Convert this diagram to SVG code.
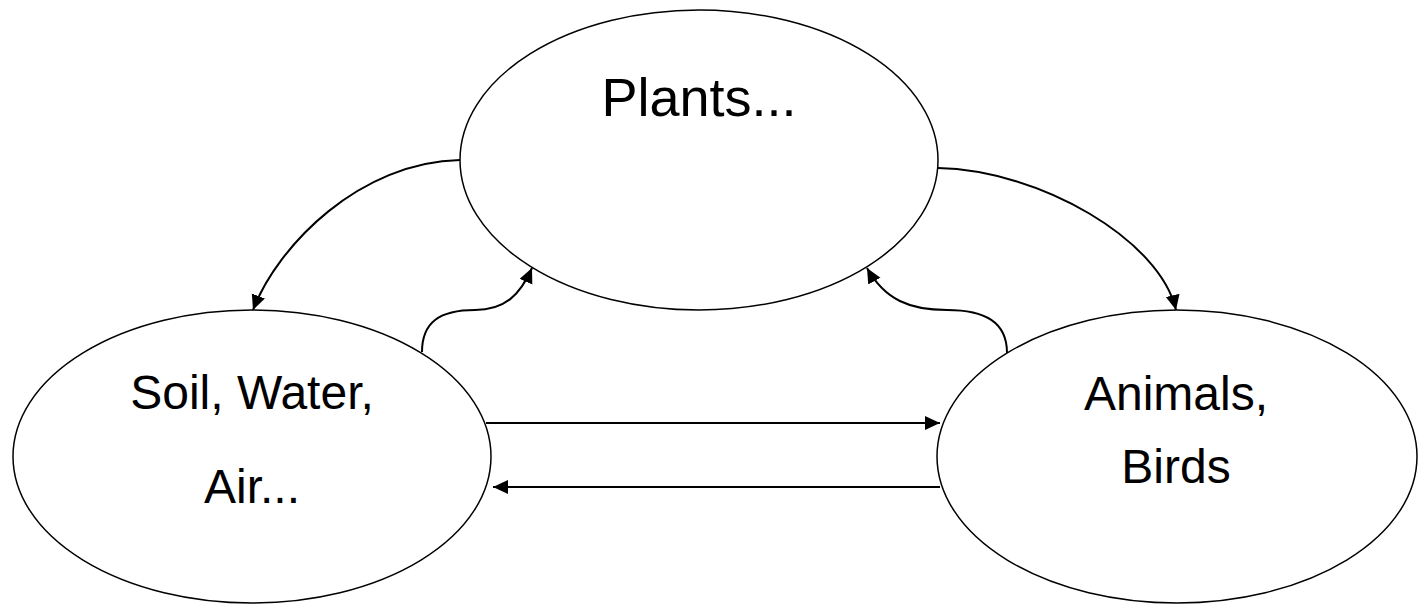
<svg xmlns="http://www.w3.org/2000/svg" width="1422" height="605" viewBox="0 0 1422 605">
  <style>
    .node { fill: #ffffff; stroke: #000000; stroke-width: 1.5; }
    .label { font-family: "Liberation Sans", Arial, sans-serif; fill: #000000; text-anchor: middle; }
    .conn { fill: none; stroke: #000000; stroke-width: 2; marker-end: url(#arrow); }
  </style>
  <defs>
    <marker id="arrow" markerUnits="userSpaceOnUse" markerWidth="16" markerHeight="16" refX="15" refY="7" orient="auto">
      <path d="M0,0 L15,7 L0,14 z" fill="#000000"/>
    </marker>
  </defs>
  <rect width="1422" height="605" fill="#ffffff"/>
  <g id="plants">
    <ellipse class="node" cx="699" cy="160" rx="239" ry="150"/>
    <text class="label" x="699" y="116" font-size="54">Plants...</text>
  </g>
  <g id="soil">
    <ellipse class="node" cx="252" cy="456.5" rx="239" ry="146.5"/>
    <text class="label" x="252" y="409" font-size="48">Soil, Water,</text>
    <text class="label" x="252" y="503" font-size="48">Air...</text>
  </g>
  <g id="animals">
    <ellipse class="node" cx="1177" cy="456.5" rx="240" ry="146.5"/>
    <text class="label" x="1176" y="410" font-size="48">Animals,</text>
    <text class="label" x="1176" y="483" font-size="48">Birds</text>
  </g>
  <g id="connectors">
    <path class="conn" d="M460,160 C360,162 278,245 253,310"/>
    <path class="conn" d="M938,168 C1040,170 1160,240 1176,310"/>
    <path class="conn" d="M422,352 C422,322 440,310 475,310 C505,310 520,295 532,268"/>
    <path class="conn" d="M1007,353 C1007,322 985,310 947,310 C910,310 885,300 867,268"/>
    <path class="conn" d="M486,423 L940,423"/>
    <path class="conn" d="M940,487 L493,487"/>
  </g>
</svg>
